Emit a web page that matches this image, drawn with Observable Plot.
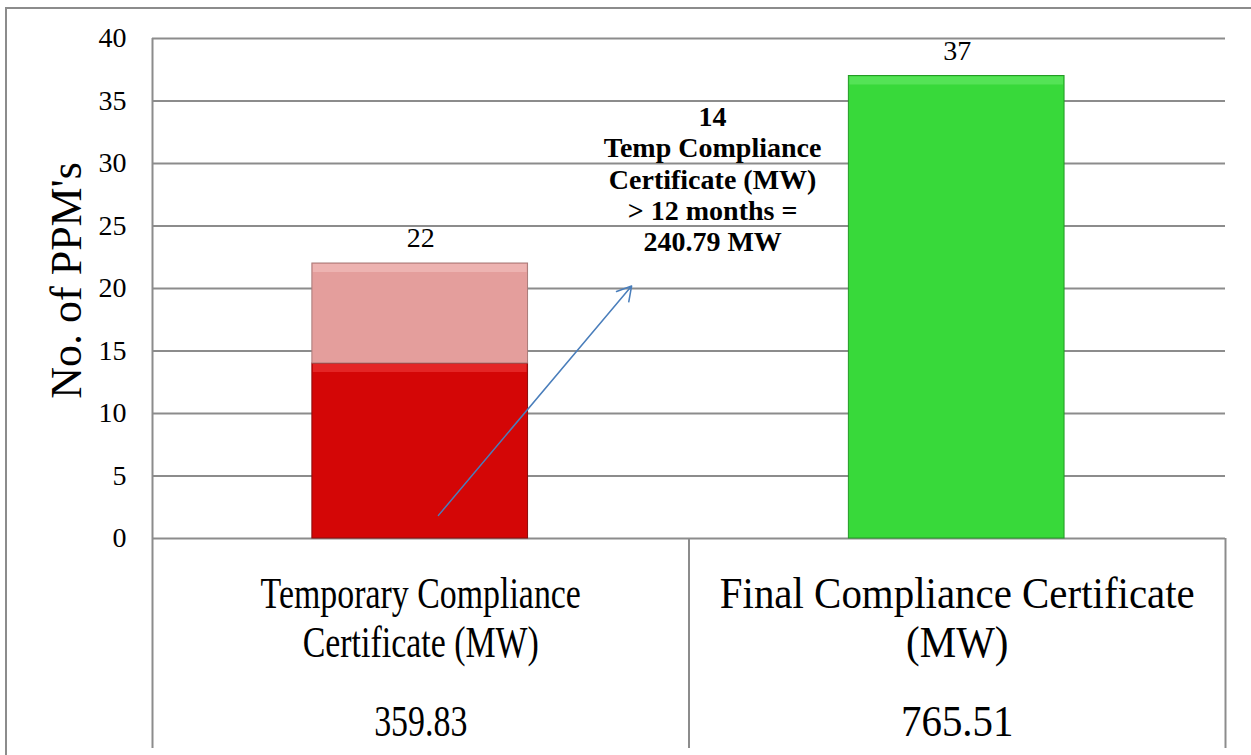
<!DOCTYPE html>
<html><head><meta charset="utf-8">
<script src="https://cdn.jsdelivr.net/npm/d3@7"></script>
<script src="https://cdn.jsdelivr.net/npm/@observablehq/plot@0.6"></script>
<style>
body{margin:0;background:#fff;overflow:hidden}
#wrap{position:relative;width:1251px;height:755px;overflow:hidden}
#wrap svg{position:absolute;left:0;top:0}
#border{position:absolute;left:5px;top:7px;width:1300px;height:800px;border-left:2px solid #8c8c8c;border-top:2px solid #8c8c8c;pointer-events:none}
</style></head><body><div id="wrap"><div id="border"></div></div>
<script>
// ---- data ----
const categories = ["Temporary Compliance Certificate (MW)", "Final Compliance Certificate (MW)"];
const categoryLines = ["Temporary Compliance\nCertificate (MW)", "Final Compliance Certificate\n(MW)"];
const tempOver12Months = [14, 0];
const tempOther = [8, 0];
const finalCert = [0, 37];
const totals = [22, 37];
const mwValues = ["359.83", "765.51"];
const annotationLines = ["14", "Temp Compliance", "Certificate (MW)", "> 12 months =", "240.79 MW"];
const yTicks = [0, 5, 10, 15, 20, 25, 30, 35, 40];

// ---- styles ----
const condense = [0.77, 0.93]; // horizontal squeeze of the table text per column
const seriesList = [
  {values: tempOver12Months, fill: "#d40606", stroke: "#8a0c0c", hi: "#ee3a3a"},
  {values: tempOther, fill: "#e49e9c", stroke: "#a87a78", hi: "#f3c2c0"},
  {values: finalCert, fill: "#38d93a", stroke: "#239a25", hi: "#68ea69"}
];

// ---- build stacked segments ----
const segments = [];
categories.forEach((c, i) => {
  let base = 0;
  seriesList.forEach(s => {
    const v = s.values[i];
    if (v > 0) {
      segments.push({i, y1: base, y2: base + v, fill: s.fill, stroke: s.stroke, hi: s.hi});
      base += v;
    }
  });
});
const cats = categories.map((c, i) => ({i, label: categoryLines[i], mw: mwValues[i], total: totals[i]}));
const barLo = 0.298, barHi = 0.7;
const FONT = "'Liberation Serif', serif";

const chart = Plot.plot({
  width: 1251,
  height: 755,
  marginLeft: 152,
  marginRight: 26,
  marginTop: 38,
  marginBottom: 217,
  style: {fontFamily: FONT, color: "#000", background: "transparent"},
  x: {domain: [0, 2], axis: null},
  y: {domain: [0, 40], axis: null},
  marks: [
    Plot.gridY(yTicks, {stroke: "#8c8c8c", strokeWidth: 2, strokeOpacity: 1}),
    Plot.axisY(yTicks, {tickSize: 0, tickPadding: 26, fontSize: 28, fontFamily: FONT, label: null, tickFormat: d => String(d)}),
    Plot.rect(segments, {x1: d => d.i + barLo, x2: d => d.i + barHi, y1: "y1", y2: "y2", fill: d => d.fill, stroke: d => d.stroke, strokeWidth: 1}),
    Plot.rect(segments, {x1: d => d.i + barLo, x2: d => d.i + barHi, y1: "y2", y2: "y2", insetBottom: -9, insetTop: 1, insetLeft: 1, insetRight: 1, fill: d => d.hi, fillOpacity: 0.6}),
    Plot.ruleX([0], {y1: 40, y2: -16.8, stroke: "#8c8c8c", strokeWidth: 2}),
    Plot.ruleX([1, 2], {y1: 0, y2: -16.8, stroke: "#8c8c8c", strokeWidth: 2}),
    Plot.text(cats, {x: d => d.i + 0.5, y: "total", text: d => String(d.total), dy: -25, fontSize: 28, fontFamily: FONT}),
    Plot.text(cats, {x: d => d.i + 0.5, y: -6.3, text: "label", fontSize: 44, lineHeight: 1.11, fontFamily: FONT, ariaLabel: d => "cat-" + d.i}),
    Plot.text(cats, {x: d => d.i + 0.5, y: -14.7, text: "mw", fontSize: 44, fontFamily: FONT, ariaLabel: d => "cat-" + d.i}),
    Plot.text([annotationLines.join("\n")], {x: 1.044, y: 28.8, text: d => d, fontSize: 28, fontWeight: "bold", lineHeight: 1.12, fontFamily: FONT}),
    Plot.arrow([0], {x1: 0.533, y1: 1.85, x2: 0.893, y2: 20.2, stroke: "#4a7ebb", strokeWidth: 1.5, headLength: 16, bend: 0, inset: 0}),
    Plot.text(["No. of PPM's"], {frameAnchor: "left", textAnchor: "middle", rotate: -90, dx: -86, dy: -8, fontSize: 44, fontFamily: FONT})
  ]
});
document.getElementById("wrap").prepend(chart);

// horizontally condense the table labels (as in the reference)
categories.forEach((c, i) => {
  d3.select(chart).selectAll(`text[aria-label="cat-${i}"]`).each(function() {
    const spans = this.querySelectorAll("tspan");
    const targets = spans.length ? Array.from(spans) : [this];
    targets.forEach(el => {
      const w = el.getComputedTextLength();
      el.setAttribute("textLength", (w * condense[i]).toFixed(1));
      el.setAttribute("lengthAdjust", "spacingAndGlyphs");
    });
  });
});
</script></body></html>
